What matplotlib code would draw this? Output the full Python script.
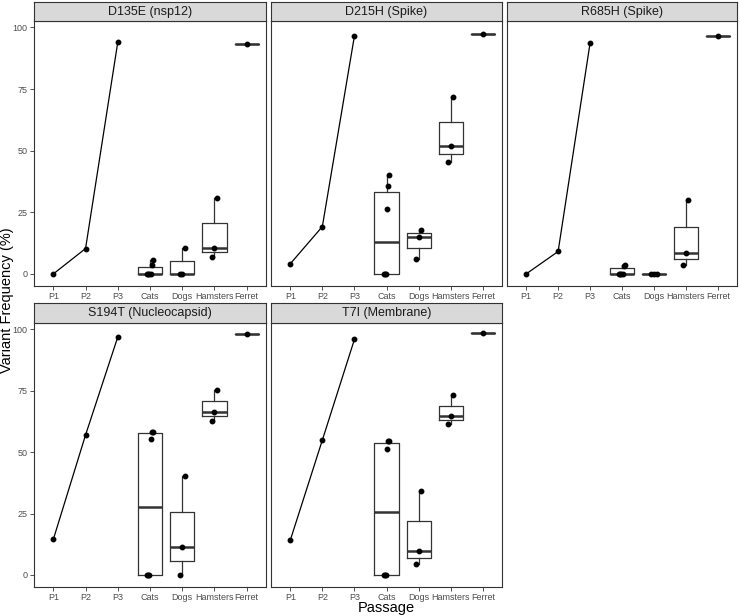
import matplotlib.pyplot as plt
import numpy as np

plt.rcParams['font.family'] = ['Liberation Sans', 'DejaVu Sans']

# x categories shared by every panel
categories = ['P1', 'P2', 'P3', 'Cats', 'Dogs', 'Hamsters', 'Ferret']

# one entry per variant / panel
titles = ['D135E (nsp12)', 'D215H (Spike)', 'R685H (Spike)',
          'S194T (Nucleocapsid)', 'T7I (Membrane)']

# passage series P1, P2, P3
passages = [[0.0, 10.3, 94.0],
            [4.1, 19.2, 96.5],
            [0.0, 9.1, 93.6],
            [14.5, 57.0, 96.9],
            [14.1, 54.9, 95.9]]

# animal groups (variant frequency per animal)
cats = [[0.0, 0.0, 0.0, 0.0, 3.8, 5.5],
        [0.0, 0.0, 0.0, 26.2, 35.8, 40.0],
        [0.0, 0.0, 0.0, 0.0, 3.1, 3.6],
        [0.0, 0.0, 0.0, 55.5, 58.4, 58.4],
        [0.0, 0.0, 0.0, 51.2, 54.5, 54.5]]
dogs = [[0.0, 0.0, 10.4],
        [6.2, 15.0, 18.0],
        [0.0, 0.0, 0.0],
        [0.0, 11.2, 40.3],
        [4.6, 9.6, 34.1]]
hamsters = [[6.8, 10.6, 31.0],
            [45.2, 51.7, 71.8],
            [3.7, 8.4, 29.8],
            [62.6, 66.5, 75.2],
            [61.5, 64.7, 73.3]]
ferret = [[93.4], [97.4], [96.7], [98.1], [98.4]]

W, H = 740, 616
fig = plt.figure(figsize=(7.4, 6.16), dpi=100)

# panel boxes in pixels: (left, right) and (strip top, panel top, panel bottom)
cols = [(34, 266), (271, 502), (507, 737)]
rows = [(2, 21, 286), (303, 323, 587)]

edge = '#333333'
for i, title in enumerate(titles):
    r, c = divmod(i, 3)
    x0, x1 = cols[c]
    s_top, p_top, p_bot = rows[r]
    ax = fig.add_axes([x0 / W, 1 - p_bot / H, (x1 - x0) / W, (p_bot - p_top) / H])
    strip = fig.add_axes([x0 / W, 1 - p_top / H, (x1 - x0) / W, (p_top - s_top) / H])
    strip.set_facecolor('#D9D9D9')
    strip.set_xticks([])
    strip.set_yticks([])
    for sp in strip.spines.values():
        sp.set_color(edge)
        sp.set_linewidth(0.8)
    strip.text(0.5, 0.5, title, ha='center', va='center', fontsize=9, color='#1A1A1A',
               transform=strip.transAxes)

    # passage line
    ax.plot([1, 2, 3], passages[i], color='black', lw=0.9, marker='o', ms=3.2, zorder=3)

    # boxplots for the animal groups
    groups = [cats[i], dogs[i], hamsters[i], ferret[i]]
    ax.boxplot(groups, positions=[4, 5, 6, 7], widths=0.75, showcaps=False,
               showfliers=False,
               boxprops=dict(color=edge, lw=0.9),
               whiskerprops=dict(color=edge, lw=0.9),
               medianprops=dict(color=edge, lw=1.8))
    for k, g in enumerate(groups):
        n = len(g)
        offs = np.linspace(-0.08, 0.08, n) if n > 1 else np.zeros(1)
        ax.plot(4 + k + offs, g, 'o', color='black', ms=3.2, zorder=3)

    ax.set_xlim(0.4, 7.6)
    ax.set_ylim(-4.9, 102.6)
    ax.set_xticks(range(1, 8))
    ax.set_xticklabels(categories)
    ax.set_yticks([0, 25, 50, 75, 100])
    ax.tick_params(colors=edge, labelcolor='#4D4D4D', labelsize=6.5, length=3, width=0.6, pad=1.5)
    if c != 0:
        ax.tick_params(axis='y', left=False, labelleft=False)
    for sp in ax.spines.values():
        sp.set_color(edge)
        sp.set_linewidth(0.8)

fig.text(7 / W, 1 - 300 / H, 'Variant Frequency (%)', rotation=90, ha='center', va='center',
         fontsize=10.5)
fig.text(386 / W, 1 - 608 / H, 'Passage', ha='center', va='center', fontsize=10.5)

fig.savefig('out.png', dpi=100)
